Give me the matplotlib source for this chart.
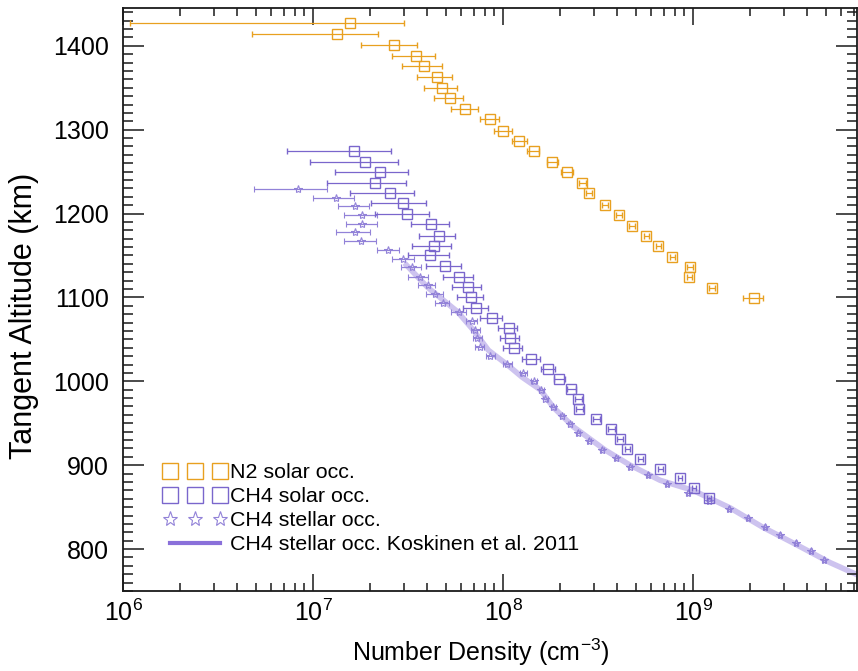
import numpy as np
import matplotlib
matplotlib.use("Agg")
import matplotlib.pyplot as plt
from matplotlib.lines import Line2D
from matplotlib.ticker import LogLocator, MultipleLocator, NullFormatter

plt.rcParams['font.family'] = ['Liberation Sans', 'DejaVu Sans']
plt.rcParams['mathtext.fontset'] = 'custom'
plt.rcParams['mathtext.rm'] = 'Liberation Sans'
plt.rcParams['mathtext.it'] = 'Liberation Sans:italic'
plt.rcParams['mathtext.bf'] = 'Liberation Sans:bold'
plt.rcParams['mathtext.default'] = 'regular'

# ---- N2 solar occultation ----
alt_n2 = [1427, 1414, 1401, 1388, 1376, 1363, 1350, 1338, 1325, 1313, 1299, 1287,
          1274, 1262, 1249, 1237, 1224, 1210, 1198, 1185, 1173, 1161, 1148, 1136,
          1124, 1111, 1099]
n_n2 = [1.56e7, 1.33e7, 2.66e7, 3.47e7, 3.82e7, 4.47e7, 4.75e7, 5.29e7, 6.34e7, 8.49e7,
        1.00e8, 1.22e8, 1.45e8, 1.82e8, 2.18e8, 2.61e8, 2.84e8, 3.45e8, 4.09e8, 4.79e8,
        5.67e8, 6.56e8, 7.77e8, 9.66e8, 9.55e8, 1.26e9, 2.09e9]
lo_n2 = [1.09e6, 4.8e6, 1.78e7, 2.59e7, 2.93e7, 3.51e7, 3.82e7, 4.31e7, 5.35e7, 7.52e7,
         9.0e7, 1.12e8, 1.33e8, 1.71e8, 2.03e8, 2.50e8, 2.74e8, 3.32e8, 3.95e8, 4.63e8,
         5.50e8, 6.37e8, 7.55e8, 9.35e8, 9.25e8, 1.21e9, 1.83e9]
hi_n2 = [3.0e7, 2.19e7, 3.51e7, 4.36e7, 4.75e7, 5.42e7, 5.69e7, 6.19e7, 7.34e7, 9.57e7,
         1.12e8, 1.34e8, 1.55e8, 1.95e8, 2.34e8, 2.72e8, 2.95e8, 3.58e8, 4.23e8, 4.95e8,
         5.85e8, 6.76e8, 8.0e8, 1.0e9, 9.86e8, 1.31e9, 2.33e9]

# ---- CH4 solar occultation ----
alt_ch4_sol = [1274, 1262, 1249, 1237, 1224, 1212, 1200, 1187, 1173, 1161, 1150, 1138,
               1124, 1113, 1101, 1088, 1076, 1064, 1052, 1040, 1027, 1015, 1003, 991,
               979, 967, 955, 943, 931, 919, 907, 895, 885, 873, 861]
n_ch4_sol = [1.64e7, 1.87e7, 2.24e7, 2.11e7, 2.53e7, 2.96e7, 3.11e7, 4.20e7, 4.63e7, 4.31e7,
             4.15e7, 4.92e7, 5.90e7, 6.58e7, 6.75e7, 7.25e7, 8.80e7, 1.08e8, 1.09e8, 1.14e8,
             1.41e8, 1.73e8, 1.98e8, 2.29e8, 2.49e8, 2.52e8, 3.10e8, 3.72e8, 4.14e8, 4.51e8,
             5.27e8, 6.71e8, 8.55e8, 1.01e9, 1.22e9]
lo_ch4_sol = [7.3e6, 9.6e6, 1.30e7, 1.19e7, 1.56e7, 2.01e7, 2.13e7, 3.26e7, 3.59e7, 3.30e7,
              3.15e7, 3.91e7, 4.86e7, 5.42e7, 5.69e7, 6.19e7, 7.52e7, 9.46e7, 9.69e7, 1.00e8,
              1.26e8, 1.59e8, 1.86e8, 2.16e8, 2.38e8, 2.41e8, 2.97e8, 3.58e8, 4.0e8, 4.37e8,
              5.12e8, 6.52e8, 8.32e8, 9.85e8, 1.19e9]
hi_ch4_sol = [2.56e7, 2.79e7, 3.18e7, 3.07e7, 3.42e7, 3.95e7, 4.10e7, 5.22e7, 5.62e7, 5.35e7,
              5.22e7, 6.04e7, 6.98e7, 7.69e7, 7.89e7, 8.38e7, 9.93e7, 1.19e8, 1.22e8, 1.26e8,
              1.57e8, 1.88e8, 2.11e8, 2.43e8, 2.61e8, 2.64e8, 3.24e8, 3.87e8, 4.29e8, 4.66e8,
              5.43e8, 6.91e8, 8.78e8, 1.04e9, 1.25e9]

# ---- CH4 stellar occultation ----
alt_ch4_st = [1229, 1219, 1209, 1198, 1188, 1178, 1167, 1157, 1146, 1136, 1124, 1115,
              1104, 1093, 1083, 1072, 1061, 1052, 1041, 1030, 1021, 1010, 1000, 990,
              979, 969, 959, 949, 938, 929, 918, 909, 898, 888, 878, 867, 857, 848,
              837, 826, 817, 807, 798, 787]
n_ch4_st = [8.32e6, 1.32e7, 1.66e7, 1.80e7, 1.80e7, 1.66e7, 1.78e7, 2.47e7, 2.96e7, 3.30e7,
            3.64e7, 4.01e7, 4.36e7, 4.81e7, 5.83e7, 6.83e7, 7.16e7, 7.33e7, 7.52e7, 8.59e7,
            1.055e8, 1.28e8, 1.46e8, 1.59e8, 1.67e8, 1.84e8, 2.05e8, 2.26e8, 2.49e8, 2.84e8,
            3.33e8, 3.94e8, 4.67e8, 5.81e8, 7.31e8, 9.42e8, 1.22e9, 1.55e9, 1.95e9, 2.39e9,
            2.87e9, 3.48e9, 4.18e9, 4.89e9]
lo_ch4_st = [4.88e6, 9.95e6, 1.35e7, 1.45e7, 1.50e7, 1.32e7, 1.45e7, 2.16e7, 2.59e7, 2.89e7,
             3.15e7, 3.55e7, 3.91e7, 4.36e7, 5.31e7, 6.40e7, 6.75e7, 6.95e7, 7.13e7, 8.15e7,
             1.0e8, 1.23e8, 1.41e8, 1.54e8, 1.62e8, 1.79e8, 2.0e8, 2.21e8, 2.44e8, 2.79e8,
             3.27e8, 3.87e8, 4.59e8, 5.72e8, 7.2e8, 9.28e8, 1.20e9, 1.53e9, 1.92e9, 2.36e9,
             2.83e9, 3.43e9, 4.12e9, 4.82e9]
hi_ch4_st = [1.18e7, 1.64e7, 1.96e7, 2.16e7, 2.16e7, 1.99e7, 2.14e7, 2.82e7, 3.38e7, 3.68e7,
             4.01e7, 4.36e7, 4.81e7, 5.22e7, 6.35e7, 7.3e7, 7.6e7, 7.75e7, 7.95e7, 9.05e7,
             1.11e8, 1.33e8, 1.51e8, 1.64e8, 1.72e8, 1.89e8, 2.10e8, 2.31e8, 2.54e8, 2.89e8,
             3.39e8, 4.01e8, 4.75e8, 5.90e8, 7.42e8, 9.56e8, 1.24e9, 1.57e9, 1.98e9, 2.42e9,
             2.91e9, 3.53e9, 4.24e9, 4.96e9]

# ---- CH4 stellar occultation, Koskinen et al. 2011 ----
alt_kosk = [1141, 1112, 1083, 1061, 1037, 1020, 1005, 990, 969, 946, 918, 900, 882, 870,
            849, 826, 805, 784, 769]
n_kosk = [3.03e7, 4.01e7, 5.76e7, 6.98e7, 8.38e7, 1.05e8, 1.26e8, 1.57e8, 1.84e8, 2.34e8,
          3.45e8, 4.67e8, 6.71e8, 1.0e9, 1.57e9, 2.33e9, 3.52e9, 5.25e9, 7.38e9]

labels = ['N2 solar occ.', 'CH4 solar occ.', 'CH4 stellar occ.',
          'CH4 stellar occ. Koskinen et al. 2011']

c_n2 = '#E8A020'
c_sol = '#7A66CC'
c_st = '#9282D8'
c_kosk = '#8A70DA'


def xerr(n, lo, hi):
    n = np.asarray(n)
    return np.vstack([n - np.asarray(lo), np.asarray(hi) - n])


fig = plt.figure(figsize=(8.58, 6.71), dpi=100)
ax = fig.add_axes([0.1434, 0.1192, 0.8555, 0.8688])

ax.plot(n_kosk, alt_kosk, color=c_kosk, lw=4.0, alpha=0.42, zorder=1,
        solid_capstyle='butt')

ax.errorbar(n_n2, alt_n2, xerr=xerr(n_n2, lo_n2, hi_n2), fmt='s', ms=7,
            mfc='none', mec=c_n2, mew=1.0, ecolor=c_n2, elinewidth=0.9,
            capsize=2.2, capthick=0.9, zorder=3)
ax.errorbar(n_ch4_sol, alt_ch4_sol, xerr=xerr(n_ch4_sol, lo_ch4_sol, hi_ch4_sol),
            fmt='s', ms=7, mfc='none', mec=c_sol, mew=1.0, ecolor=c_sol,
            elinewidth=0.9, capsize=2.2, capthick=0.9, zorder=3)
ax.errorbar(n_ch4_st, alt_ch4_st, xerr=xerr(n_ch4_st, lo_ch4_st, hi_ch4_st),
            fmt='*', ms=6, mfc='none', mec=c_st, mew=0.8, ecolor=c_st,
            elinewidth=0.9, capsize=2.2, capthick=0.9, zorder=2)

ax.set_xscale('log')
ax.set_xlim(1e6, 7.3e9)
ax.set_ylim(750, 1445)

ax.xaxis.set_major_locator(LogLocator(base=10, numticks=10))
ax.xaxis.set_minor_locator(LogLocator(base=10, subs=np.arange(2, 10), numticks=50))
ax.xaxis.set_minor_formatter(NullFormatter())
ax.yaxis.set_major_locator(MultipleLocator(100))
ax.yaxis.set_minor_locator(MultipleLocator(10))

for s in ax.spines.values():
    s.set_linewidth(1.3)
    s.set_color('#1a1a1a')

ax.tick_params(axis='both', which='both', direction='in', top=True, right=True,
               color='#1a1a1a', width=1.1)
ax.tick_params(axis='y', which='major', length=15, labelsize=18, pad=10)
ax.tick_params(axis='y', which='minor', length=7.5)
ax.tick_params(axis='x', which='major', length=12, labelsize=18, pad=6)
ax.tick_params(axis='x', which='minor', length=5.5)

ax.set_xlabel('Number Density (cm$^{-3}$)', fontsize=18)
ax.set_ylabel('Tangent Altitude (km)', fontsize=22)
ax.xaxis.set_label_coords(0.487, -0.079)
ax.yaxis.set_label_coords(-0.114, 0.472)

handles = [
    Line2D([], [], ls='none', marker='s', ms=11, mfc='none', mec=c_n2, mew=1.0),
    Line2D([], [], ls='none', marker='s', ms=11, mfc='none', mec=c_sol, mew=1.0),
    Line2D([], [], ls='none', marker='*', ms=11, mfc='none', mec=c_st, mew=0.8),
    Line2D([], [], color=c_kosk, lw=3),
]
ax.legend(handles, labels, loc='upper left',
          bbox_to_anchor=(164 / 858, 1 - 463 / 671),
          bbox_transform=fig.transFigure, frameon=False, numpoints=3,
          fontsize=15.4, handlelength=2.9, handletextpad=0.2, labelspacing=0.24,
          borderpad=0, borderaxespad=0)

fig.savefig('out.png', dpi=100)
